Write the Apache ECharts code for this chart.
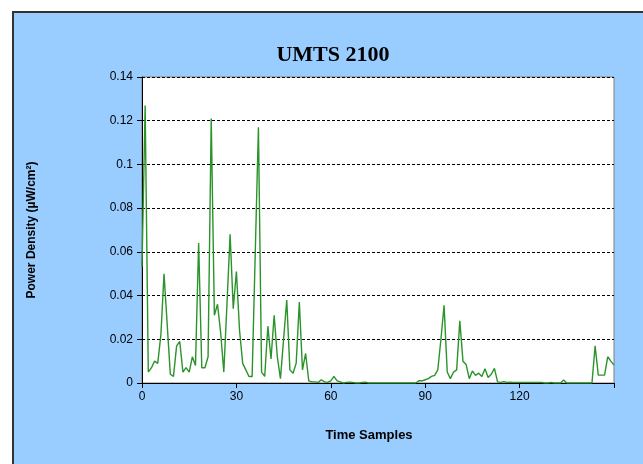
<!DOCTYPE html>
<html>
<head>
<meta charset="utf-8">
<script src="https://cdn.jsdelivr.net/npm/echarts@6/dist/echarts.min.js"></script>
<style>
  html, body { margin: 0; padding: 0; background: #fff; overflow: hidden; }
  #frame {
    position: absolute; left: 12px; top: 11px; width: 700px; height: 500px;
    background: #99ccff; border: 2px solid #333;
  }
  #chart { position: absolute; left: 0; top: 0; width: 643px; height: 464px; }
</style>
</head>
<body>
<div id="frame"></div>
<div id="chart"></div>
<script>
// power density readings, one per time sample (0..150)
const density = [
  0.053, 0.127, 0.005, 0.007, 0.010, 0.009, 0.022, 0.050, 0.027, 0.004,
  0.003, 0.017, 0.019, 0.005, 0.007, 0.005, 0.012, 0.008, 0.064, 0.007,
  0.007, 0.012, 0.121, 0.031, 0.036, 0.023, 0.005, 0.036, 0.068, 0.034,
  0.051, 0.024, 0.009, 0.006, 0.003, 0.003, 0.060, 0.117, 0.005, 0.003,
  0.026, 0.011, 0.031, 0.012, 0.002, 0.020, 0.038, 0.006, 0.0045, 0.009,
  0.037, 0.006, 0.0135, 0.001, 0.0005, 0.0005, 0.0003, 0.0015, 0.0005, 0.0003,
  0.001, 0.003, 0.001, 0.0005, 0, 0.0003, 0.0004, 0.0003, 0, 0,
  0.0003, 0.0004, 0, 0, 0, 0, 0, 0, 0, 0,
  0, 0, 0, 0, 0, 0, 0, 0, 0.001, 0.001,
  0.0015, 0.002, 0.003, 0.0035, 0.006, 0.020, 0.0355, 0.005, 0.002, 0.005,
  0.006, 0.0285, 0.010, 0.0085, 0.002, 0.0055, 0.0035, 0.0045, 0.003, 0.0065,
  0.0025, 0.004, 0.0067, 0.0005, 0.0003, 0.0006, 0.0003, 0.0004, 0.0003, 0.0003,
  0.0003, 0.0003, 0.0003, 0.0003, 0.0003, 0.0003, 0.0003, 0.0003, 0, 0,
  0.0003, 0, 0, 0, 0.0014, 0, 0, 0, 0, 0,
  0, 0, 0, 0, 0.017, 0.0036, 0.0036, 0.0036, 0.012, 0.010,
  0.0082
];
const xTicks = [0, 30, 60, 90, 120];

let chart = echarts.init(document.getElementById('chart'));
chart.setOption({
  animation: false,
  backgroundColor: 'transparent',
  title: {
    text: 'UMTS 2100',
    left: 328, top: 39, textAlign: 'center',
    textStyle: { fontFamily: 'Liberation Serif', fontWeight: 'bold', fontSize: 22, color: '#000' }
  },
  grid: {
    left: 142, top: 77, width: 472, height: 306,
    show: true, backgroundColor: '#fff', borderColor: '#808080', borderWidth: 1
  },
  xAxis: {
    type: 'value', min: 0, max: 150, interval: 30,
    name: 'Time Samples', nameLocation: 'middle', nameGap: 46,
    nameTextStyle: {
      fontFamily: 'Liberation Sans', fontWeight: 'bold', fontSize: 13, color: '#000',
      padding: [0, 18, 0, 0]
    },
    axisLine: { lineStyle: { color: '#000', width: 1 } },
    axisTick: { show: true, length: 5, lineStyle: { color: '#000' } },
    axisLabel: {
      fontFamily: 'Liberation Sans', fontSize: 12, color: '#000', margin: 8,
      formatter: v => (xTicks.indexOf(v) >= 0 ? String(v) : '')
    },
    splitLine: { show: false }
  },
  yAxis: {
    type: 'value', min: 0, max: 0.14, interval: 0.02,
    name: 'Power Density (µW/cm²)', nameLocation: 'middle', nameGap: 104, nameRotate: 90,
    nameTextStyle: { fontFamily: 'Liberation Sans', fontWeight: 'bold', fontSize: 12, color: '#000' },
    axisLine: { show: true, lineStyle: { color: '#000', width: 1 } },
    axisTick: { show: true, length: 5, lineStyle: { color: '#000' } },
    axisLabel: { fontFamily: 'Liberation Sans', fontSize: 12, color: '#000', margin: 9 },
    splitLine: { show: true, lineStyle: { color: '#000', type: [3, 2], width: 1 } }
  },
  series: [{
    type: 'line',
    data: density.map((v, i) => [i, v]),
    showSymbol: false,
    lineStyle: { color: '#2a932a', width: 1.4 },
    z: 3
  }]
});
</script>
</body>
</html>
